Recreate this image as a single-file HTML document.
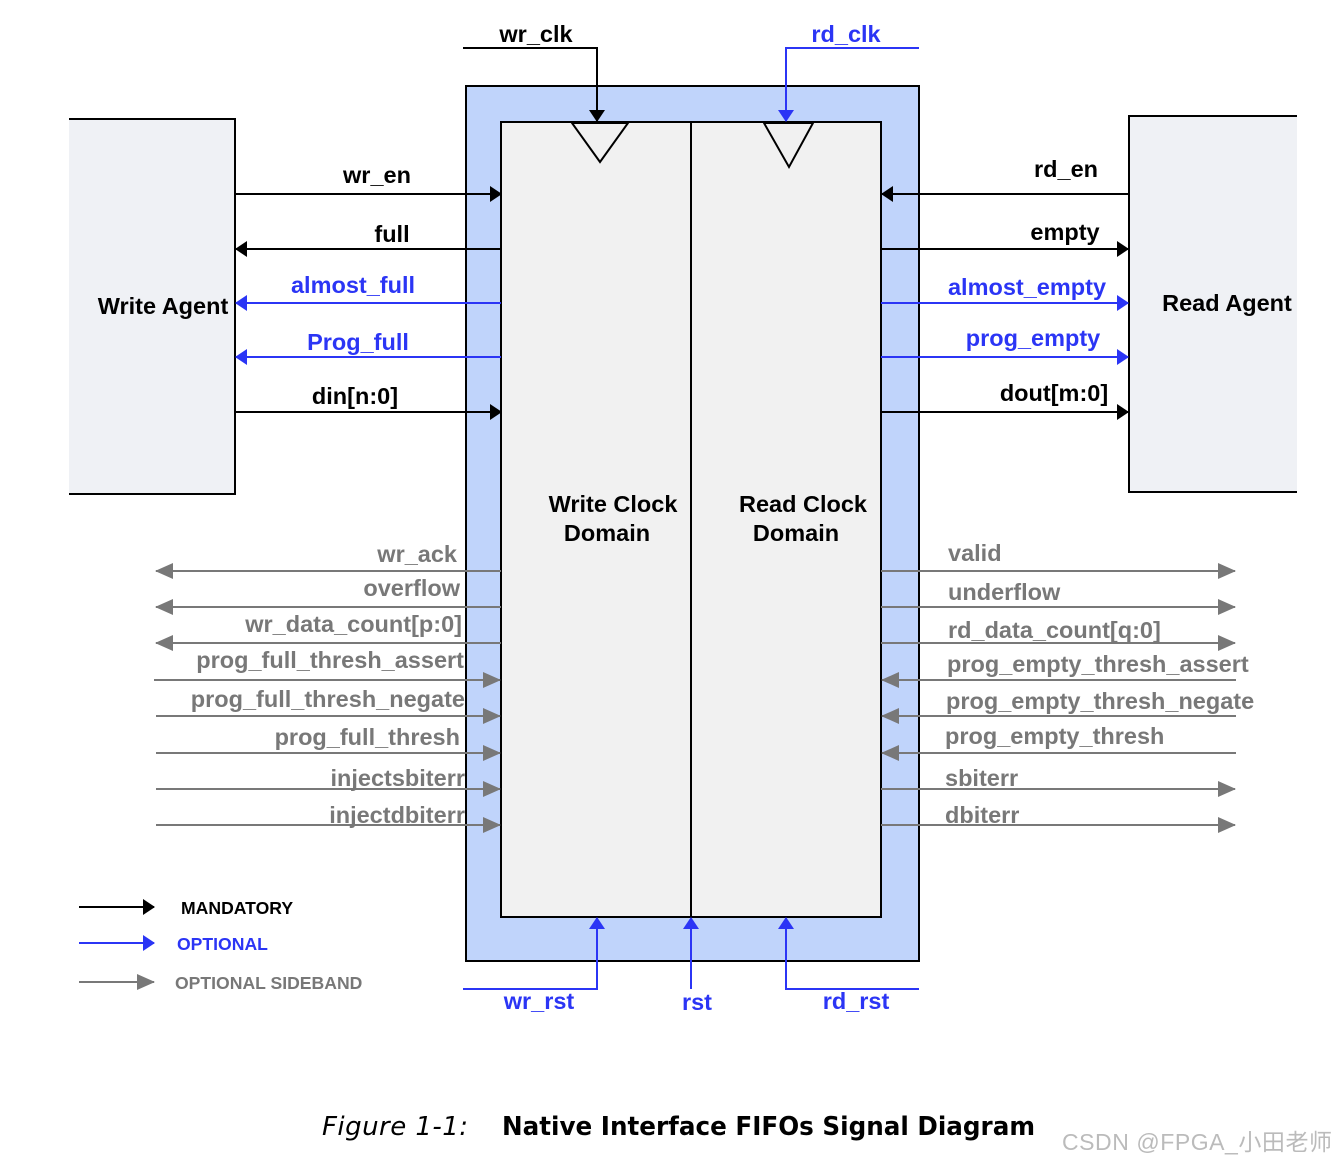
<!DOCTYPE html>
<html><head><meta charset="utf-8"><style>
html,body{margin:0;padding:0;background:#fff;}
svg{display:block;}
text{font-family:"Liberation Sans",Arial,sans-serif;font-weight:bold;font-size:23.5px;}
.k{fill:#000}.b{fill:#2b35f5}.g{fill:#787878}
</style></head><body>
<svg width="1335" height="1163" viewBox="0 0 1335 1163" xmlns="http://www.w3.org/2000/svg">
<defs>
<marker id="ak" markerWidth="12" markerHeight="16" refX="11" refY="8" orient="auto" markerUnits="userSpaceOnUse"><path d="M0,0 L12,8 L0,16z" fill="#000"/></marker>
<marker id="ab" markerWidth="12" markerHeight="16" refX="11" refY="8" orient="auto" markerUnits="userSpaceOnUse"><path d="M0,0 L12,8 L0,16z" fill="#2b35f5"/></marker>
<marker id="ag" markerWidth="18" markerHeight="16" refX="17" refY="8" orient="auto" markerUnits="userSpaceOnUse"><path d="M0,0 L18,8 L0,16z" fill="#787878"/></marker>
</defs>
<rect x="69" y="119" width="166" height="375" fill="#eff1f5"/>
<path d="M69,119 H235 V494 H69" fill="none" stroke="#000" stroke-width="2"/>
<rect x="1129" y="116" width="168" height="376" fill="#eff1f5"/>
<path d="M1297,116 H1129 V492 H1297" fill="none" stroke="#000" stroke-width="2"/>
<text x="163" y="314" text-anchor="middle" class="k">Write Agent</text>
<text x="1227" y="311" text-anchor="middle" class="k">Read Agent</text>
<rect x="466" y="86" width="453" height="875" fill="#c0d4fb" stroke="#000" stroke-width="2"/>
<rect x="501" y="122" width="380" height="795" fill="#f1f1f1" stroke="#000" stroke-width="2"/>
<line x1="691" y1="122" x2="691" y2="917" stroke="#000" stroke-width="2"/>
<path d="M572,123 L628,123 L600,162z" fill="none" stroke="#000" stroke-width="2"/>
<path d="M764,123 L813,123 L789,167z" fill="none" stroke="#000" stroke-width="2"/>
<text x="613" y="512" text-anchor="middle" class="k">Write Clock</text>
<text x="607" y="541" text-anchor="middle" class="k">Domain</text>
<text x="803" y="512" text-anchor="middle" class="k">Read Clock</text>
<text x="796" y="541" text-anchor="middle" class="k">Domain</text>
<path d="M463,48 H597 V121" fill="none" stroke="#000" stroke-width="2" marker-end="url(#ak)"/>
<text x="536" y="42" text-anchor="middle" class="k">wr_clk</text>
<path d="M919,48 H786 V121" fill="none" stroke="#2b35f5" stroke-width="2" marker-end="url(#ab)"/>
<text x="846" y="42" text-anchor="middle" class="b">rd_clk</text>
<path d="M463,989 H597 V918" fill="none" stroke="#2b35f5" stroke-width="2" marker-end="url(#ab)"/>
<path d="M691,989 V918" fill="none" stroke="#2b35f5" stroke-width="2" marker-end="url(#ab)"/>
<path d="M919,989 H786 V918" fill="none" stroke="#2b35f5" stroke-width="2" marker-end="url(#ab)"/>
<text x="539" y="1009" text-anchor="middle" class="b">wr_rst</text>
<text x="697" y="1010" text-anchor="middle" class="b">rst</text>
<text x="856" y="1009" text-anchor="middle" class="b">rd_rst</text>
<g stroke-width="2" fill="none">
<line x1="235" y1="194" x2="501" y2="194" stroke="#000" marker-end="url(#ak)"/>
<line x1="501" y1="249" x2="236" y2="249" stroke="#000" marker-end="url(#ak)"/>
<line x1="501" y1="303" x2="236" y2="303" stroke="#2b35f5" marker-end="url(#ab)"/>
<line x1="501" y1="357" x2="236" y2="357" stroke="#2b35f5" marker-end="url(#ab)"/>
<line x1="235" y1="412" x2="501" y2="412" stroke="#000" marker-end="url(#ak)"/>
<line x1="1129" y1="194" x2="882" y2="194" stroke="#000" marker-end="url(#ak)"/>
<line x1="881" y1="249" x2="1128" y2="249" stroke="#000" marker-end="url(#ak)"/>
<line x1="881" y1="303" x2="1128" y2="303" stroke="#2b35f5" marker-end="url(#ab)"/>
<line x1="881" y1="357" x2="1128" y2="357" stroke="#2b35f5" marker-end="url(#ab)"/>
<line x1="881" y1="412" x2="1128" y2="412" stroke="#000" marker-end="url(#ak)"/>
</g>
<text x="377" y="183" text-anchor="middle" class="k">wr_en</text>
<text x="392" y="242" text-anchor="middle" class="k">full</text>
<text x="353" y="293" text-anchor="middle" class="b">almost_full</text>
<text x="358" y="350" text-anchor="middle" class="b">Prog_full</text>
<text x="355" y="404" text-anchor="middle" class="k">din[n:0]</text>
<text x="1066" y="177" text-anchor="middle" class="k">rd_en</text>
<text x="1065" y="240" text-anchor="middle" class="k">empty</text>
<text x="1027" y="295" text-anchor="middle" class="b">almost_empty</text>
<text x="1033" y="346" text-anchor="middle" class="b">prog_empty</text>
<text x="1054" y="401" text-anchor="middle" class="k">dout[m:0]</text>
<g stroke="#787878" stroke-width="2" fill="none">
<line x1="501" y1="571" x2="156" y2="571" marker-end="url(#ag)"/>
<line x1="501" y1="607" x2="156" y2="607" marker-end="url(#ag)"/>
<line x1="501" y1="643" x2="156" y2="643" marker-end="url(#ag)"/>
<line x1="154" y1="680" x2="500" y2="680" marker-end="url(#ag)"/>
<line x1="156" y1="716" x2="500" y2="716" marker-end="url(#ag)"/>
<line x1="156" y1="753" x2="500" y2="753" marker-end="url(#ag)"/>
<line x1="156" y1="789" x2="500" y2="789" marker-end="url(#ag)"/>
<line x1="156" y1="825" x2="500" y2="825" marker-end="url(#ag)"/>
<line x1="881" y1="571" x2="1235" y2="571" marker-end="url(#ag)"/>
<line x1="881" y1="607" x2="1235" y2="607" marker-end="url(#ag)"/>
<line x1="881" y1="643" x2="1235" y2="643" marker-end="url(#ag)"/>
<line x1="1236" y1="680" x2="882" y2="680" marker-end="url(#ag)"/>
<line x1="1236" y1="716" x2="882" y2="716" marker-end="url(#ag)"/>
<line x1="1236" y1="753" x2="882" y2="753" marker-end="url(#ag)"/>
<line x1="881" y1="789" x2="1235" y2="789" marker-end="url(#ag)"/>
<line x1="881" y1="825" x2="1235" y2="825" marker-end="url(#ag)"/>
</g>
<g text-anchor="end">
<text x="457" y="562" class="g">wr_ack</text>
<text x="460" y="596" class="g">overflow</text>
<text x="462" y="632" class="g">wr_data_count[p:0]</text>
<text x="464" y="668" class="g">prog_full_thresh_assert</text>
<text x="465" y="707" class="g">prog_full_thresh_negate</text>
<text x="460" y="745" class="g">prog_full_thresh</text>
<text x="465" y="786" class="g">injectsbiterr</text>
<text x="465" y="823" class="g">injectdbiterr</text>
</g>
<text x="948" y="561" class="g">valid</text>
<text x="948" y="600" class="g">underflow</text>
<text x="948" y="638" class="g">rd_data_count[q:0]</text>
<text x="947" y="672" class="g">prog_empty_thresh_assert</text>
<text x="946" y="709" class="g">prog_empty_thresh_negate</text>
<text x="945" y="744" class="g">prog_empty_thresh</text>
<text x="945" y="786" class="g">sbiterr</text>
<text x="945" y="823" class="g">dbiterr</text>
<line x1="79" y1="907" x2="154" y2="907" stroke="#000" stroke-width="2" marker-end="url(#ak)"/>
<line x1="79" y1="943" x2="154" y2="943" stroke="#2b35f5" stroke-width="2" marker-end="url(#ab)"/>
<line x1="79" y1="982" x2="154" y2="982" stroke="#787878" stroke-width="2" marker-end="url(#ag)"/>
<text x="181" y="914" class="k" style="font-size:17.6px">MANDATORY</text>
<text x="177" y="950" class="b" style="font-size:17.6px">OPTIONAL</text>
<text x="175" y="989" class="g" style="font-size:17.6px">OPTIONAL SIDEBAND</text>
<text x="322" y="1135" style="font-family:'DejaVu Sans',sans-serif;font-style:italic;font-weight:normal;font-size:26px;fill:#000" textLength="146">Figure 1-1:</text>
<text x="502" y="1135" style="font-family:'DejaVu Sans',sans-serif;font-weight:bold;font-size:26px;fill:#000" textLength="533" lengthAdjust="spacingAndGlyphs">Native Interface FIFOs Signal Diagram</text>
<text x="1062" y="1150" style="font-family:'Liberation Sans','Noto Sans CJK SC',sans-serif;font-weight:normal;font-size:23px;fill:#bbb" textLength="270">CSDN @FPGA_小田老师</text>
</svg>
</body></html>
